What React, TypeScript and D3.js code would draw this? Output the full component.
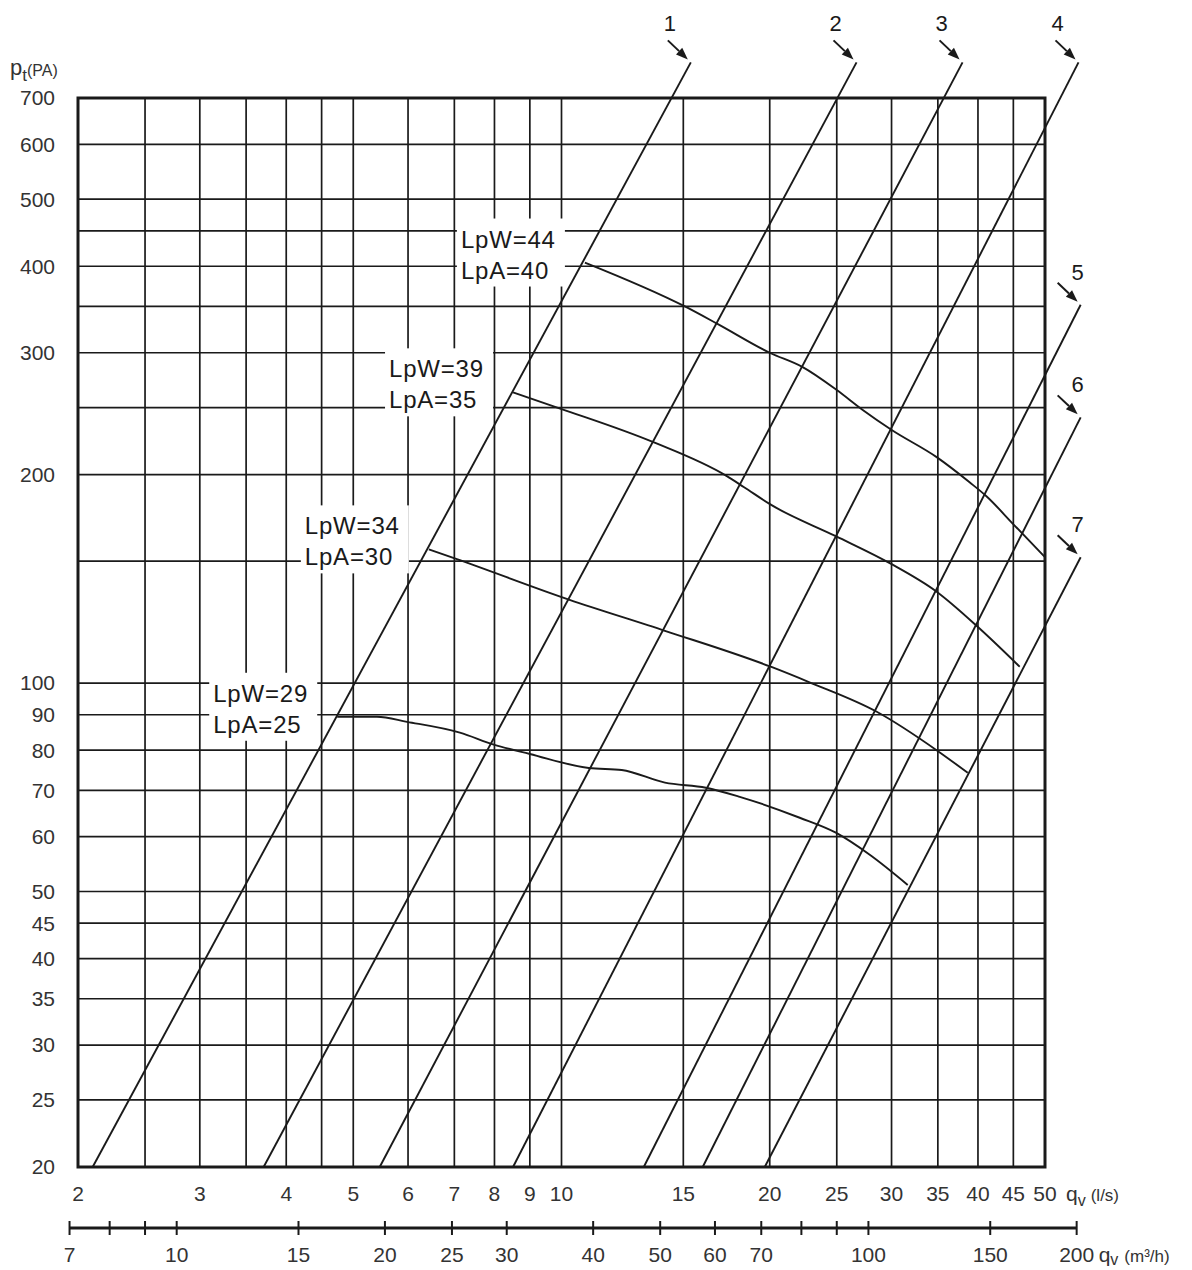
import React from 'react';
import * as d3 from 'd3';

// grid + tick values
const lsGrid = [2, 2.5, 3, 3.5, 4, 4.5, 5, 6, 7, 8, 9, 10, 15, 20, 25, 30, 35, 40, 45, 50];
const lsLabels = [2, 3, 4, 5, 6, 7, 8, 9, 10, 15, 20, 25, 30, 35, 40, 45, 50];
const paLabels = [20, 25, 30, 35, 40, 45, 50, 60, 70, 80, 90, 100, 200, 300, 400, 500, 600, 700];
const paGrid = [...paLabels, 150, 250, 350, 450];
const m3hTicks = [7, 8, 9, 10, 15, 20, 25, 30, 40, 50, 60, 70, 80, 90, 100, 150, 200];
const m3hLabels = [7, 10, 15, 20, 25, 30, 40, 50, 60, 70, 100, 150, 200];

// system curves 1..7: flow at 20 Pa and far end point [q, p]
const systemNames = ['1', '2', '3', '4', '5', '6', '7'];
const systemStart = [2.1, 3.71, 5.46, 8.51, 13.15, 16.0, 19.67];
const systemEnd = [
    [15.38, 788],
    [26.7, 788],
    [38.0, 788],
    [55.9, 788],
    [56.3, 352],
    [56.3, 242],
    [56.3, 152],
];

// fan curves [q l/s, p Pa]
const fan44 = [[10.81, 405], [15.08, 350], [16.83, 330], [20.0, 300], [22.32, 286], [25.0, 265], [27.26, 248], [30.02, 232], [34.86, 212], [38.9, 195], [41.18, 186], [44.9, 170], [50, 152]];
const fan39 = [[8.51, 263], [9.98, 249], [13.55, 223], [17.34, 199], [18.34, 192], [20.07, 181], [24.92, 163], [29.82, 149], [34.86, 135.5], [39.96, 120.6], [45.96, 105.6]];
const fan34 = [[6.43, 156], [7.06, 151], [10.25, 132], [14.11, 119], [20.07, 105.6], [22.92, 100.1], [28.56, 90.9], [35.1, 79.6], [38.66, 74.2]];
const fan29 = [[4.74, 89.4], [5.41, 89.4], [5.98, 87.9], [7.13, 84.8], [7.98, 81.5], [9.0, 79.0], [10.95, 75.4], [12.22, 74.9], [14.11, 71.8], [16.17, 70.6], [18.1, 68.5], [22.1, 63.9], [24.92, 60.8], [27.9, 56.5], [31.66, 51.1]];
const fanCurves = [fan44, fan39, fan34, fan29];
const lpW = ['LpW=44', 'LpW=39', 'LpW=34', 'LpW=29'];
const lpA = ['LpA=40', 'LpA=35', 'LpA=30', 'LpA=25'];

const FONT = '"Liberation Sans", Arial, Helvetica, sans-serif';
const INK = '#1a1a1a';
const LABEL = '#333';

export default function App() {
    const x = d3.scaleLog().domain([2, 50]).range([78, 1045]);
    const y = d3.scaleLog().domain([20, 700]).range([1167, 98]);
    const xm = (v: number) => x(v / 3.6);

    const line = d3
        .line<number[]>()
        .x((d) => x(d[0]))
        .y((d) => y(d[1]))
        .curve(d3.curveMonotoneX);

    const [x0, x1] = x.range();
    const [y0, y1] = y.range();
    const axisY = 1228;

    return (
        <svg
            width={1192}
            height={1270}
            style={{ position: 'absolute', left: 0, top: 0, background: '#fff' }}
            fontFamily={FONT}
        >
            <rect width={1192} height={1270} fill="#fff" />

            {/* grid */}
            <g stroke={INK} strokeWidth={1.7}>
                {lsGrid.map((v) => (
                    <line key={'v' + v} x1={x(v)} x2={x(v)} y1={y0} y2={y1} />
                ))}
                {paGrid.map((v) => (
                    <line key={'h' + v} x1={x0} x2={x1} y1={y(v)} y2={y(v)} />
                ))}
            </g>
            <rect x={x0} y={y1} width={x1 - x0} height={y0 - y1} fill="none" stroke={INK} strokeWidth={3} />

            {/* label boxes for fan curves */}
            {fanCurves.map((c, i) => {
                const sx = x(c[0][0]);
                const sy = y(c[0][1]);
                return (
                    <g key={'lab' + i}>
                        <rect x={sx - 128} y={sy - 44} width={108} height={68} fill="#fff" />
                        <text x={sx - 124} y={sy - 15} fontSize={24} letterSpacing={0.8} fill={INK}>
                            {lpW[i]}
                        </text>
                        <text x={sx - 124} y={sy + 16} fontSize={24} letterSpacing={0.8} fill={INK}>
                            {lpA[i]}
                        </text>
                    </g>
                );
            })}

            {/* system lines */}
            <g stroke={INK} strokeWidth={1.9} fill="none">
                {systemStart.map((q, i) => (
                    <line
                        key={'s' + i}
                        x1={x(q)}
                        y1={y(20)}
                        x2={x(systemEnd[i][0])}
                        y2={y(systemEnd[i][1])}
                    />
                ))}
            </g>

            {/* arrows + numbers */}
            {systemEnd.map((e, i) => {
                const ex = x(e[0]);
                const ey = y(e[1]);
                const sx = ex - 23;
                const sy = ey - 22;
                const tx = ex - 3;
                const ty = ey - 3;
                const dx = tx - sx;
                const dy = ty - sy;
                const len = Math.hypot(dx, dy);
                const ux = dx / len;
                const uy = dy / len;
                const bx = tx - ux * 12;
                const by = ty - uy * 12;
                const head = `M${tx},${ty}L${bx - uy * 4.5},${by + ux * 4.5}L${bx + uy * 4.5},${by - ux * 4.5}Z`;
                const lx = i < 4 ? ex - 21 : ex - 3;
                const ly = i < 4 ? ey - 31 : ey - 25;
                return (
                    <g key={'a' + i}>
                        <line x1={sx} y1={sy} x2={bx} y2={by} stroke={INK} strokeWidth={2} />
                        <path d={head} fill={INK} />
                        <text x={lx} y={ly} fontSize={22} textAnchor="middle" fill={INK}>
                            {systemNames[i]}
                        </text>
                    </g>
                );
            })}

            {/* fan curves */}
            <g stroke={INK} strokeWidth={1.9} fill="none">
                {fanCurves.map((c, i) => (
                    <path key={'f' + i} d={line(c) || ''} />
                ))}
            </g>

            {/* y labels */}
            <g fontSize={21} fill={LABEL} textAnchor="end">
                {paLabels.map((v) => (
                    <text key={'yl' + v} x={55} y={y(v)} dy="0.35em">
                        {v}
                    </text>
                ))}
            </g>
            <text x={10} y={75} fontSize={22} fill={LABEL}>
                p
                <tspan fontSize={17} dy={6}>t</tspan>
                <tspan fontSize={16} dy={-5}>(PA)</tspan>
            </text>

            {/* x labels l/s */}
            <g fontSize={21} fill={LABEL} textAnchor="middle">
                {lsLabels.map((v) => (
                    <text key={'xl' + v} x={x(v)} y={1201}>
                        {v}
                    </text>
                ))}
            </g>
            <text x={x(50) + 21} y={1201} fontSize={21} fill={LABEL}>
                q
                <tspan fontSize={16} dy={5}>v</tspan>
                <tspan fontSize={17} dy={-5} dx={5}>(l/s)</tspan>
            </text>

            {/* m3/h axis */}
            <line x1={xm(7)} x2={xm(200)} y1={axisY} y2={axisY} stroke={INK} strokeWidth={3} />
            <g stroke={INK} strokeWidth={2}>
                {m3hTicks.map((v) => (
                    <line key={'mt' + v} x1={xm(v)} x2={xm(v)} y1={axisY - 7} y2={axisY + 7} />
                ))}
            </g>
            <g fontSize={21} fill={LABEL} textAnchor="middle">
                {m3hLabels.map((v) => (
                    <text key={'ml' + v} x={xm(v)} y={1262}>
                        {v}
                    </text>
                ))}
            </g>
            <text x={xm(200) + 22} y={1262} fontSize={21} fill={LABEL}>
                q
                <tspan fontSize={16} dy={3}>v</tspan>
                <tspan fontSize={17} dy={-3} dx={6}>(m³/h)</tspan>
            </text>
        </svg>
    );
}
